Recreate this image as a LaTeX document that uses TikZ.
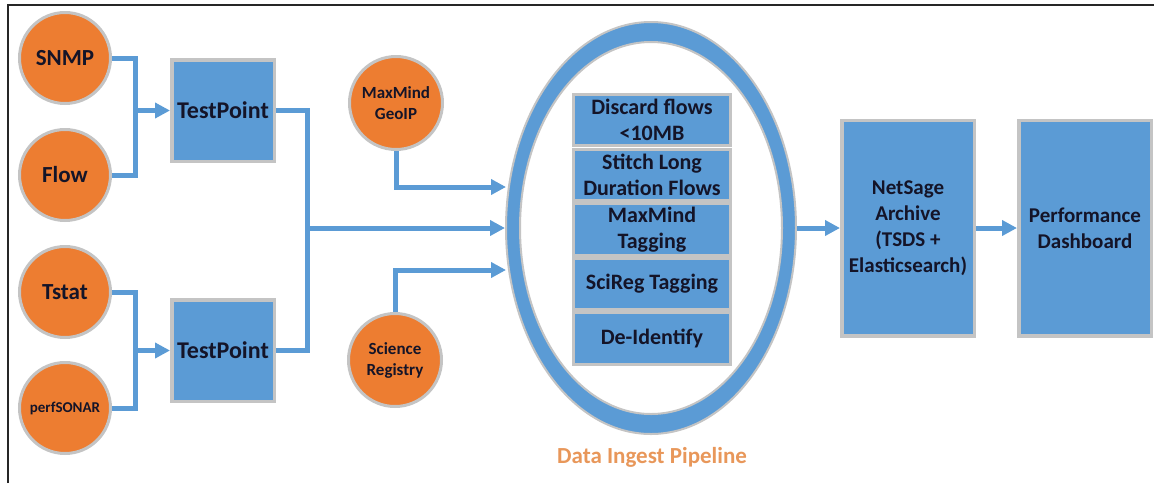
\documentclass[tikz,border=0pt]{standalone}
\usepackage{fontspec}
\setmainfont{Carlito}
\usetikzlibrary{arrows.meta,shapes.geometric}
\definecolor{nsblue}{HTML}{5B9BD5}
\definecolor{nsorange}{HTML}{ED7D31}
\definecolor{nsgray}{HTML}{C4C4C4}
\definecolor{nstext}{HTML}{141428}
\definecolor{nslabel}{HTML}{E8975A}
\begin{document}
\begin{tikzpicture}[x=1pt,y=-1pt,
  src/.style={circle, fill=nsorange, draw=nsgray, line width=3pt, inner sep=0pt,
    minimum size=91pt, text=nstext, align=center,
    font=\bfseries\fontsize{23}{27}\selectfont},
  blk/.style={rectangle, fill=nsblue, draw=nsgray, line width=3.5pt, inner sep=0pt,
    text=nstext, align=center, font=\bfseries\fontsize{21}{26}\selectfont},
  stage/.style={blk, line width=3pt, minimum width=157pt, minimum height=51.5pt,
    font=\bfseries\fontsize{22}{26}\selectfont},
  ring/.style={ellipse, draw=nsgray, line width=2pt, inner sep=0pt},
  link/.style={nsblue, line width=5pt},
  arr/.style={link, -{Triangle[length=15pt,width=15pt]}},
]
\useasboundingbox (0,0) rectangle (1154,483);
\draw[line width=2pt, black!85] (8,483) -- (8,5) -- (1154,5);

% sources
\node[src] (snmp) at (65,58) {SNMP};
\node[src] (flow) at (65,175) {Flow};
\node[src] (tstat) at (65,292) {Tstat};
\node[src, font=\bfseries\fontsize{15}{18}\selectfont] (perf) at (65,408) {perfSONAR};
\node[src, minimum size=93pt, font=\bfseries\fontsize{17}{21}\selectfont] (geo) at (396,103) {MaxMind\\GeoIP};
\node[src, minimum size=93pt, font=\bfseries\fontsize{17}{21}\selectfont] (sci) at (395,360) {Science\\Registry};

% test points
\node[blk, minimum width=102.5pt, minimum height=101.5pt,
  font=\bfseries\fontsize{24}{28}\selectfont] (tp1) at (223,110.5) {TestPoint};
\node[blk, minimum width=102.5pt, minimum height=101.5pt,
  font=\bfseries\fontsize{24}{28}\selectfont] (tp2) at (223,350.5) {TestPoint};

% pipeline ring
\node[ring, fill=nsblue, minimum width=290pt, minimum height=412pt] (pipe) at (651,228) {};
\node[ring, fill=white, minimum width=262pt, minimum height=372pt] (pipein) at (651,228) {};

\node[stage] (s1) at (652,120) {Discard flows\\<10MB};
\node[stage] (s2) at (652,175) {Stitch Long\\Duration Flows};
\node[stage] (s3) at (652,229.5) {MaxMind\\Tagging};
\node[stage] (s4) at (652,284) {SciReg Tagging};
\node[stage] (s5) at (652,338.5) {De-Identify};

\node[text=nslabel, font=\bfseries\fontsize{23}{27}\selectfont] (lbl) at (652,457) {Data Ingest Pipeline};

% outputs
\node[blk, minimum width=132.5pt, minimum height=215.5pt] (ns) at (908,228)
  {NetSage\\Archive\\(TSDS +\\Elasticsearch)};
\node[blk, minimum width=132.5pt, minimum height=215.5pt] (dash) at (1085,228)
  {Performance\\Dashboard};

% connectors
\coordinate (j1) at (135,110.5);
\coordinate (j2) at (135,350.5);
\coordinate (j3) at (307,228);
\coordinate (gin) at (506,187);
\coordinate (sin) at (506,270);

\draw[link] (snmp) -| (j1) |- (flow);
\draw[arr] (j1) -- (tp1);
\draw[link] (tstat) -| (j2) |- (perf);
\draw[arr] (j2) -- (tp2);
\draw[link] (tp1) -| (j3) |- (tp2);
\draw[arr] (j3) -- (pipe);
\draw[arr] (geo) |- (gin);
\draw[arr] (sci) |- (sin);
\draw[arr] (pipe) -- (ns);
\draw[arr] (ns) -- (dash);
\end{tikzpicture}
\end{document}
